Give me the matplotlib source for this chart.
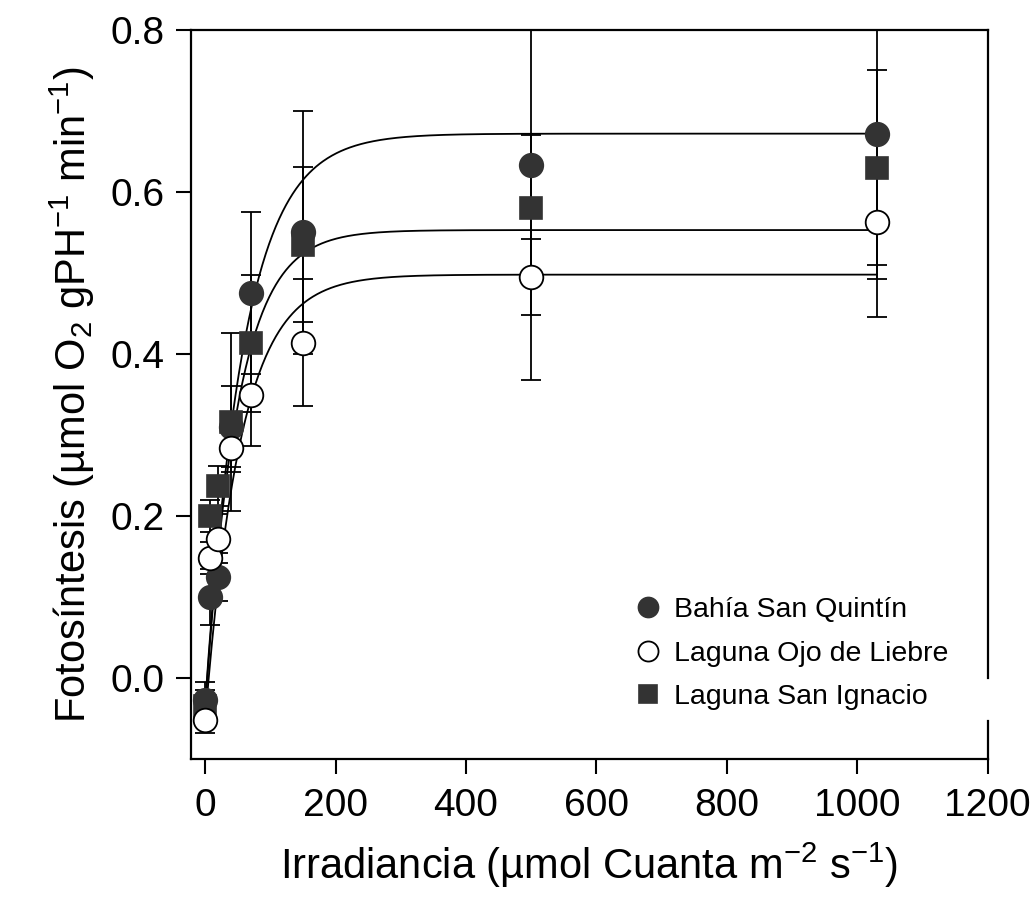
import numpy as np
import matplotlib
matplotlib.use("Agg")
import matplotlib.pyplot as plt

plt.rcParams['font.family'] = ['Liberation Sans', 'DejaVu Sans']

# ---- data ----
irradiance = [0, 8, 20, 40, 70, 150, 500, 1030]

series_names = ["Bahía San Quintín", "Laguna Ojo de Liebre", "Laguna San Ignacio"]

bsq_mean = [-0.027, 0.100, 0.125, 0.310, 0.475, 0.550, 0.633, 0.671]
bsq_err = [0.022, 0.035, 0.030, 0.050, 0.100, 0.150, 0.265, 0.225]

lol_mean = [-0.052, 0.148, 0.172, 0.284, 0.350, 0.414, 0.495, 0.563]
lol_err = [0.016, 0.020, 0.030, 0.030, 0.064, 0.078, 0.047, 0.070]

lsi_mean = [-0.035, 0.200, 0.237, 0.316, 0.413, 0.535, 0.580, 0.630]
lsi_err = [0.020, 0.020, 0.025, 0.110, 0.085, 0.096, 0.090, 0.120]

# fitted P-I curve parameters: P = pmax*(1-exp(-k*I)) + r
fit_pmax = [0.702, 0.588, 0.548]
fit_k = [0.01675, 0.0200, 0.0182]
fit_r = [-0.030, -0.035, -0.050]

# ---- figure ----
fig = plt.figure(figsize=(10.32, 9.07), dpi=100)
ax = fig.add_axes([0.185, 0.163, 0.772, 0.804])

dark = '#333333'
I = np.linspace(0, 1030, 600)
for pm, k, r in zip(fit_pmax, fit_k, fit_r):
    ax.plot(I, pm * (1 - np.exp(-k * I)) + r, color='black', lw=1.3, zorder=2)

eb_kw = dict(fmt='none', ecolor='black', elinewidth=1.3, capsize=7, capthick=1.3, zorder=3)
ax.errorbar(irradiance, bsq_mean, yerr=bsq_err, **eb_kw)
ax.errorbar(irradiance, lol_mean, yerr=lol_err, **eb_kw)
ax.errorbar(irradiance, lsi_mean, yerr=lsi_err, **eb_kw)

h1, = ax.plot(irradiance, bsq_mean, 'o', ms=17, mfc=dark, mec=dark, mew=1.2, ls='none', zorder=4)
h3, = ax.plot(irradiance, lsi_mean, 's', ms=15.5, mfc=dark, mec=dark, mew=1.2, ls='none', zorder=4)
h2, = ax.plot(irradiance, lol_mean, 'o', ms=17, mfc='white', mec='black', mew=1.3, ls='none', zorder=5)

ax.set_xlim(-22, 1200)
ax.set_ylim(-0.1, 0.8)
ax.set_xticks([0, 200, 400, 600, 800, 1000, 1200])
ax.set_yticks([0.0, 0.2, 0.4, 0.6, 0.8])
ax.set_yticklabels(['0.0', '0.2', '0.4', '0.6', '0.8'])

for s in ax.spines.values():
    s.set_linewidth(1.6)
ax.spines['right'].set_visible(False)
# right frame line (with gap next to the legend as in the original)
ax.plot([1, 1], [0, 0.053], transform=ax.transAxes, color='black', lw=1.6, clip_on=False)
ax.plot([1, 1], [0.111, 1], transform=ax.transAxes, color='black', lw=1.6, clip_on=False)

ax.tick_params(axis='both', direction='out', length=11, width=1.5, labelsize=28, pad=8)
ax.tick_params(axis='x', pad=10)

ax.set_xlabel(r'Irradiancia (µmol Cuanta m$^{\mathregular{-2}}$ s$^{\mathregular{-1}}$)',
              fontsize=30, labelpad=12)
ax.set_ylabel(r'Fotosíntesis (µmol O$_{\mathregular{2}}$ gPH$^{\mathregular{-1}}$ min$^{\mathregular{-1}}$)',
              fontsize=30, labelpad=10)

leg = ax.legend([h1, h2, h3], series_names, loc='lower left',
                bbox_to_anchor=(0.52, 0.032), frameon=False, fontsize=20.5,
                handletextpad=0.3, labelspacing=0.62, handlelength=1.2,
                markerscale=0.85)

fig.savefig('out.png', dpi=100)
